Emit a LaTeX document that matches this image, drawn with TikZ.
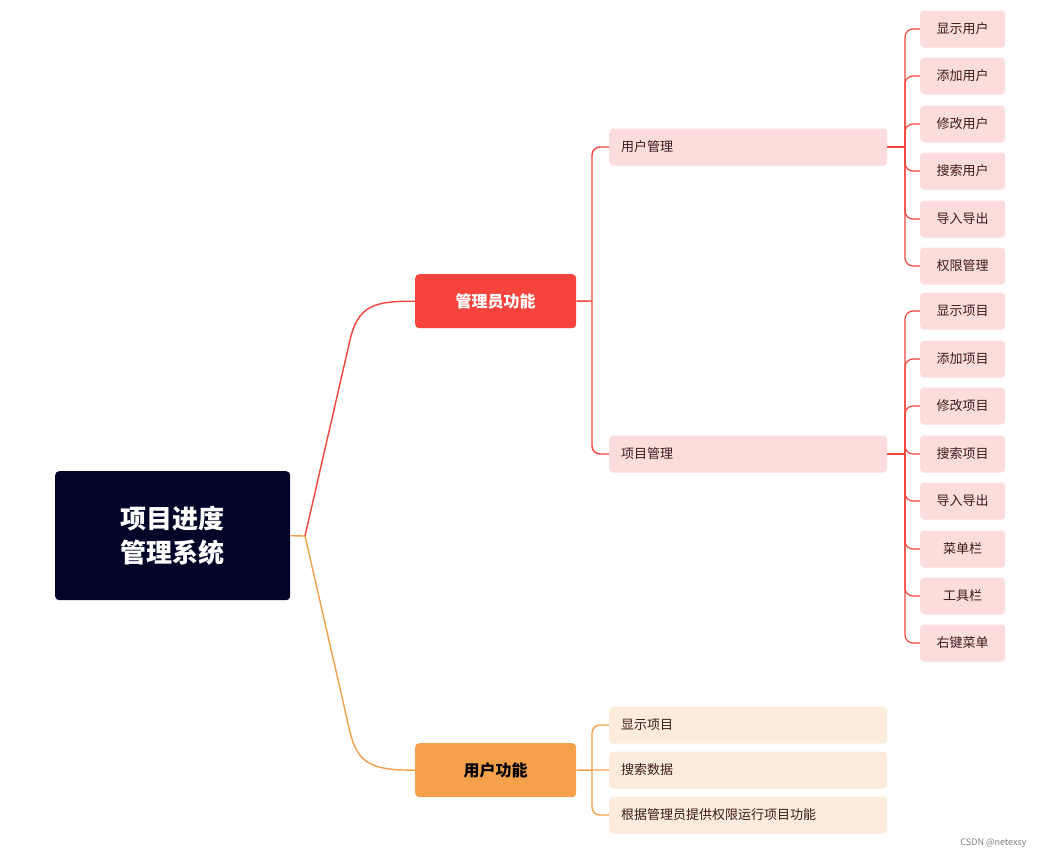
\documentclass[tikz,border=0pt]{standalone}
\usepackage{fontspec}
\setmainfont{Noto Sans CJK SC}
\newfontfamily\cjkb[BoldFont={Noto Sans CJK SC Bold}]{Noto Sans CJK SC}
\definecolor{navy}{HTML}{020428}
\definecolor{redm}{HTML}{F5443B}
\definecolor{orm}{HTML}{F5A04A}
\definecolor{pinkb}{HTML}{FDDCDC}
\definecolor{peach}{HTML}{FDEBDC}
\definecolor{txt}{HTML}{3A1A1A}
\begin{document}
\begin{tikzpicture}[x=1pt,y=-1pt,
  box/.style={rounded corners=4pt,inner sep=0pt,anchor=north west},
  leaf/.style={box,fill=pinkb,minimum width=85pt,minimum height=37pt,text=txt,font=\fontsize{13}{15}\selectfont},
  mid/.style={box,fill=#1,minimum width=278pt,minimum height=37pt,text=txt,font=\fontsize{13}{15}\selectfont,align=left,text width=270pt},
  rl/.style={draw=redm,line width=1.4pt,rounded corners=8pt},
  ol/.style={draw=orm,line width=1.4pt,rounded corners=8pt}]
\useasboundingbox[fill=white] (0,0) rectangle (1044,860);
\node[box,fill=navy,minimum width=235pt,minimum height=129pt,text=white,align=center,font=\fontsize{26}{34}\selectfont\bfseries] (root) at (55,471) {项目进度\\管理系统};
\node[box,fill=redm,minimum width=161pt,minimum height=54pt,text=white,font=\fontsize{16}{18}\selectfont\bfseries] (adm) at (415,274) {管理员功能};
\node[box,fill=orm,minimum width=161pt,minimum height=54pt,text=black,font=\fontsize{16}{18}\selectfont\bfseries] (usr) at (415,743) {用户功能};
\coordinate (r0) at (305,536);
\draw[line width=1.4pt,draw=orm] (root.east) -- (r0);
\draw[line width=1.4pt,draw=redm] (r0) -- (350,340) .. controls (358,305) and (375,301) .. (adm.west);
\draw[line width=1.4pt,draw=orm] (r0) -- (350,732) .. controls (358,766) and (375,770) .. (usr.west);
% admin children
\node[mid=pinkb,anchor=west] (um) at (609,147) {\hspace*{8pt}用户管理};
\node[mid=pinkb,anchor=west] (pm) at (609,454) {\hspace*{8pt}项目管理};
\draw[rl] (um.west) -- (592,147) -- (592,454) -- (pm.west);
\draw[rl] (adm.east) -- (592,301);
% user children
\foreach \t [count=\i] in {显示项目,搜索数据,根据管理员提供权限运行项目功能}{
  \node[mid=peach,anchor=west] (u\i) at (609,{725+45*(\i-1)}) {\hspace*{8pt}\t};}
\draw[ol] (u1.west) -- (592,725) -- (592,815) -- (u3.west);
\draw[ol] (usr.east) -- (592,770) -- (u2.west);
% leaves
\foreach \t/\y [count=\i] in {显示用户/29,添加用户/76,修改用户/124,搜索用户/171,导入导出/219,权限管理/266}{
  \node[leaf,anchor=west] (a\i) at (920,\y) {\t};
  \draw[rl,line width=1.2pt] (905,147) |- (a\i.west);}
\draw[rl,line width=1.2pt] (um.east) -- (905,147);
\foreach \t/\y [count=\i] in {显示项目/311,添加项目/359,修改项目/406,搜索项目/454,导入导出/501,菜单栏/549,工具栏/596,右键菜单/643}{
  \node[leaf,anchor=west] (b\i) at (920,\y) {\t};
  \draw[rl,line width=1.2pt] (905,454) |- (b\i.west);}
\draw[rl,line width=1.2pt] (pm.east) -- (905,454);
\node[anchor=east,text=gray,font=\fontsize{9}{10}\selectfont] (wm) at (1030,843) {CSDN @netexsy};
\end{tikzpicture}
\end{document}
